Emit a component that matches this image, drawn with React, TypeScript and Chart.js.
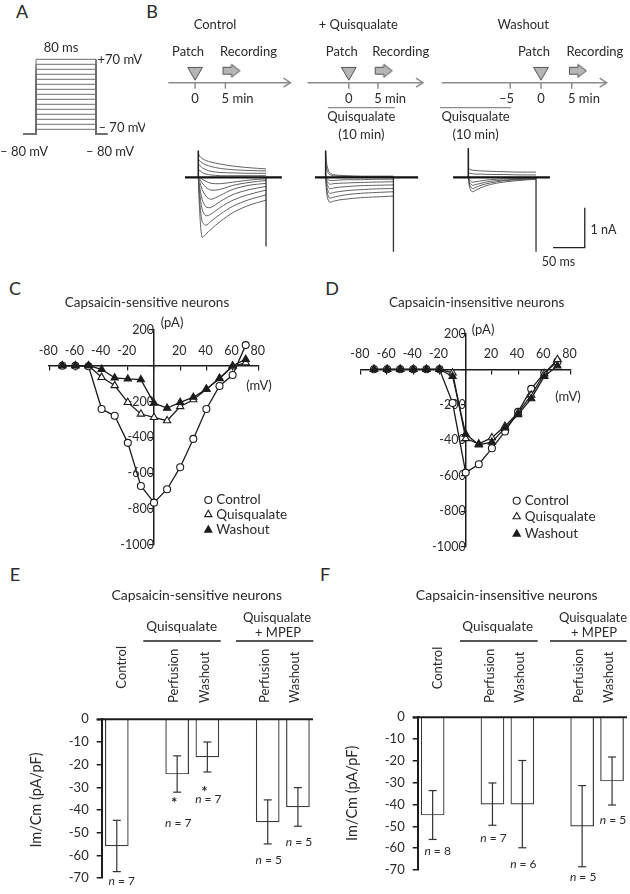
import React, { useEffect, useRef } from 'react';
import { Chart, registerables } from 'chart.js';

Chart.register(...registerables);

const FONT = 'Lato, "Noto Sans", "DejaVu Sans", sans-serif';
const INK = '#1c1c1c';
const TXT = '#2a2a2a';
const GREY = '#8c8c8c';

// ---------------- DATA ----------------
// Panel A: voltage-step protocol
const stepLevelsMv = [70, 60, 50, 40, 30, 20, 10, 0, -10, -20, -30, -40, -50, -60, -70];
const holdingMv = -80;
const stepOnMs = 0;
const stepOffMs = 80;
const holdFromMs = -17;
const holdToMs = 95;

// Panel B: timelines
const tlTitles = ['Control', '+ Quisqualate', 'Washout'];
const tlTicksMin = [[0, 5], [0, 5], [-5, 0, 5]];
const tlTickLabels = [['0', '5 min'], ['0', '5 min'], ['–5', '0', '5 min']];
const tlPatchMin = [0, 0, 0];
const tlRecordMin = [6, 6, 6];
const tlQuisFromMin: (number | null)[] = [null, -3.6, -16.4];
const tlQuisToMin: (number | null)[] = [null, 7.9, -4.9];

// Panel B: current traces (nA) sampled at these times (ms)
const traceTimesMs = [0, 2, 6, 12, 20, 35, 55, 80, 107];
const ctrlTracesNa = [
  [0.6, 0.53, 0.47, 0.42, 0.38, 0.33, 0.28, 0.24, 0.21],
  [0.45, 0.42, 0.36, 0.31, 0.27, 0.22, 0.19, 0.17, 0.16],
  [0.3, 0.3, 0.24, 0.19, 0.15, 0.12, 0.11, 0.1, 0.1],
  [0.15, 0.17, 0.12, 0.08, 0.06, 0.04, 0.04, 0.04, 0.04],
  [0, -0.8, -1.5, -1.42, -1.3, -1.1, -0.88, -0.7, -0.57],
  [0, -0.55, -1.1, -1.2, -1.1, -0.92, -0.72, -0.56, -0.44],
  [0, -0.35, -0.8, -0.96, -0.92, -0.75, -0.57, -0.43, -0.32],
  [0, -0.22, -0.55, -0.74, -0.75, -0.6, -0.43, -0.31, -0.23],
  [0, -0.1, -0.3, -0.47, -0.55, -0.45, -0.3, -0.2, -0.15],
  [0, -0.04, -0.14, -0.25, -0.32, -0.3, -0.2, -0.13, -0.08],
  [0, 0, -0.05, -0.1, -0.15, -0.16, -0.12, -0.07, -0.04],
];
const quisTracesNa = [
  [0.55, 0.3, 0.12, 0.07, 0.05, 0.04, 0.03, 0.03, 0.03],
  [0.35, 0.18, 0.07, 0.04, 0.03, 0.02, 0.02, 0.02, 0.02],
  [0, -0.45, -0.62, -0.6, -0.57, -0.54, -0.51, -0.49, -0.47],
  [0, -0.35, -0.52, -0.5, -0.47, -0.43, -0.4, -0.38, -0.36],
  [0, -0.25, -0.4, -0.38, -0.36, -0.33, -0.31, -0.29, -0.28],
  [0, -0.15, -0.28, -0.27, -0.25, -0.23, -0.21, -0.2, -0.19],
  [0, -0.08, -0.17, -0.16, -0.15, -0.14, -0.13, -0.12, -0.11],
  [0, -0.03, -0.08, -0.08, -0.07, -0.06, -0.06, -0.05, -0.05],
];
const washTracesNa = [
  [0.25, 0.2, 0.18, 0.17, 0.16, 0.15, 0.14, 0.13, 0.13],
  [0.12, 0.1, 0.09, 0.08, 0.08, 0.07, 0.07, 0.06, 0.06],
  [0, -0.25, -0.36, -0.32, -0.26, -0.18, -0.12, -0.08, -0.05],
  [0, -0.18, -0.28, -0.25, -0.2, -0.14, -0.09, -0.06, -0.04],
  [0, -0.12, -0.2, -0.18, -0.15, -0.1, -0.07, -0.05, -0.03],
  [0, -0.06, -0.12, -0.11, -0.09, -0.06, -0.04, -0.03, -0.02],
];
const capSpikeNa = [0.67, 0.67, 0.73];
const tailSpikeNa = [-1.73, -1.86, -1.86];
const baselineFromMs = [-21, -17, -24];
const baselineToMs = [132, 146, 129];
const scaleBarMs = 50;
const scaleBarNa = 1;
const scaleBarAtMs = 134;
const scaleBarAtNa = -1.76;

// Panels C & D: I-V relations
const ivVoltagesMv = [-70, -60, -50, -40, -30, -20, -10, 0, 10, 20, 30, 40, 50, 60, 70];
const ivTickLabels = [-80, -60, -40, -20, 20, 40, 60, 80];
const cControlPa = [0, 0, -3, -242, -280, -431, -672, -765, -690, -567, -409, -242, -113, -52, 115];
const cQuisPa = [0, 0, 0, -65, -111, -205, -270, -289, -307, -228, -190, -131, -70, -5, 17];
const cWashPa = [0, 0, 0, -20, -68, -74, -78, -209, -237, -205, -176, -131, -72, 0, 36];
const dControlPa = [0, 0, 0, 0, 0, 0, -190, -582, -535, -445, -350, -240, -110, -20, 43];
const dQuisPa = [0, 0, 0, 0, 0, 0, -20, -390, -420, -385, -320, -245, -145, -25, 55];
const dWashPa = [0, 0, 0, 0, 0, 0, -40, -365, -425, -410, -330, -255, -165, -40, 20];
const legendLabels = ['Control', 'Quisqualate', 'Washout'];

// Panels E & F: current density
const barCategories = ['Control', '', 'Perfusion', 'Washout', '', 'Perfusion', 'Washout'];
const eMean = [-55.8, null, -24.1, -16.6, null, -45.2, -38.6];
const eSem = [11.3, null, 8.0, 6.6, null, 9.7, 8.5];
const eN = ['7', null, '7', '7', null, '5', '5'];
const eNAt = [-71.1, null, -45.9, -35.1, null, -61.9, -54.0];
const eStarAt = [null, null, -35.4, -30.8, null, null, null];
const fMean = [-44.8, null, -39.8, -39.8, null, -49.9, -29.2];
const fSem = [11.2, null, 9.7, 20, null, 18.6, 11];
const fN = ['8', null, '7', '6', null, '5', '5'];
const fNAt = [-61.2, null, -55.6, -67.4, null, -73.4, -47.1];
const fStarAt = [null, null, null, null, null, null, null];

// ---------------- helpers ----------------
type Box = { left: number; top: number; width: number; height: number };
type Area = { left: number; top: number; right: number; bottom: number };
type T = { t: string; x: number; y: number; size?: number; align?: CanvasTextAlign; rot?: number; italic?: boolean; color?: string };

const padFor = (box: Box, a: Area) => ({
  left: a.left - box.left,
  top: a.top - box.top,
  right: box.left + box.width - a.right,
  bottom: box.top + box.height - a.bottom,
});

const baseOpts = (pad: any) => ({
  responsive: false,
  maintainAspectRatio: false,
  animation: false,
  devicePixelRatio: 1,
  events: [],
  layout: { padding: pad },
  plugins: { legend: { display: false }, tooltip: { enabled: false }, title: { display: false } },
});

function drawText(ctx: CanvasRenderingContext2D, it: T, ox: number, oy: number) {
  ctx.save();
  ctx.font = `${it.italic ? 'italic ' : ''}${it.size ?? 13}px ${FONT}`;
  ctx.fillStyle = it.color ?? TXT;
  ctx.textAlign = it.align ?? 'center';
  ctx.textBaseline = 'middle';
  ctx.translate(it.x - ox, it.y - oy);
  if (it.rot) ctx.rotate(it.rot);
  ctx.fillText(it.t, 0, 0);
  ctx.restore();
}

function textPlugin(box: Box, items: T[]) {
  return {
    id: 'pageText',
    afterDraw(chart: any) {
      for (const it of items) drawText(chart.ctx, it, box.left, box.top);
    },
  };
}

function line(ctx: CanvasRenderingContext2D, x1: number, y1: number, x2: number, y2: number) {
  ctx.beginPath();
  ctx.moveTo(x1, y1);
  ctx.lineTo(x2, y2);
  ctx.stroke();
}

function ChartCanvas({ box, build }: { box: Box; build: () => any }) {
  const ref = useRef<HTMLCanvasElement | null>(null);
  useEffect(() => {
    const chart = new Chart(ref.current as HTMLCanvasElement, build());
    return () => chart.destroy();
  }, []);
  return (
    <canvas
      ref={ref}
      width={box.width}
      height={box.height}
      style={{ position: 'absolute', left: box.left, top: box.top, width: box.width, height: box.height }}
    />
  );
}

// ---------------- Panel A ----------------
const aBox: Box = { left: 0, top: 30, width: 145, height: 140 };
const aArea: Area = { left: 23.3, right: 107.3, top: 59.3, bottom: 134.3 };
function buildA() {
  return {
    type: 'line',
    data: {
      datasets: stepLevelsMv.map((v) => ({
        data: [
          { x: holdFromMs, y: holdingMv },
          { x: stepOnMs, y: holdingMv },
          { x: stepOnMs, y: v },
          { x: stepOffMs, y: v },
          { x: stepOffMs, y: holdingMv },
          { x: holdToMs, y: holdingMv },
        ],
        borderColor: '#6e6e6e',
        borderWidth: 1,
        pointRadius: 0,
        tension: 0,
        clip: false,
      })),
    },
    options: {
      ...baseOpts(padFor(aBox, aArea)),
      scales: {
        x: { type: 'linear', display: false, min: holdFromMs, max: holdToMs },
        y: { type: 'linear', display: false, min: holdingMv, max: stepLevelsMv[0] },
      },
    },
    plugins: [
      textPlugin(aBox, [
        { t: '80 ms', x: 61, y: 47.5 },
        { t: '+70 mV', x: 97.5, y: 59.5, align: 'left' },
        { t: '– 70 mV', x: 98.5, y: 128, align: 'left' },
        { t: '– 80 mV', x: 24, y: 152 },
        { t: '– 80 mV', x: 110, y: 152 },
      ]),
    ],
  };
}

// ---------------- Panel B timelines ----------------
const tlBoxes: Box[] = [
  { left: 148, top: 15, width: 152, height: 130 },
  { left: 298, top: 15, width: 142, height: 130 },
  { left: 430, top: 15, width: 200, height: 130 },
];
const tlAxisPx = [[168.3, 293.3], [300, 423], [441.7, 606.7]];
const tlZeroPx = [195.7, 344, 541];
const tlPxPerMin = [6.2, 6.2, 6.15];
const tlTitleX = [215, 358.3, 523.3];
const TL_AXIS_Y = 82.7;

function makeArrowImage() {
  const c = document.createElement('canvas');
  c.width = 20;
  c.height = 16;
  const g = c.getContext('2d') as CanvasRenderingContext2D;
  g.beginPath();
  g.moveTo(1.5, 4.5);
  g.lineTo(10, 4.5);
  g.lineTo(10, 1.5);
  g.lineTo(18.5, 8);
  g.lineTo(10, 14.5);
  g.lineTo(10, 11.5);
  g.lineTo(1.5, 11.5);
  g.closePath();
  g.fillStyle = '#b5b5b5';
  g.fill();
  g.strokeStyle = '#555';
  g.lineWidth = 1;
  g.stroke();
  return c;
}

function splitNum(s: string) {
  const m = s.match(/^([^0-9]*)([0-9]+)(.*)$/);
  return m ? [m[1], m[2], m[3]] : ['', s, ''];
}

function buildTimeline(i: number) {
  const box = tlBoxes[i];
  const [a0, a1] = tlAxisPx[i];
  const z = tlZeroPx[i];
  const ppm = tlPxPerMin[i];
  const area: Area = { left: a0, right: a1, top: TL_AXIS_Y - 25, bottom: TL_AXIS_Y + 25 };
  const decor = {
    id: 'tlDecor',
    beforeDatasetsDraw(chart: any) {
      const ctx = chart.ctx as CanvasRenderingContext2D;
      const xs = chart.scales.x;
      const y0 = chart.scales.y.getPixelForValue(0);
      ctx.save();
      ctx.strokeStyle = GREY;
      ctx.lineWidth = 1.5;
      const L = chart.chartArea.left;
      const R = chart.chartArea.right;
      line(ctx, L, y0, R, y0);
      ctx.beginPath();
      ctx.moveTo(R - 7, y0 - 4.5);
      ctx.lineTo(R, y0);
      ctx.lineTo(R - 7, y0 + 4.5);
      ctx.stroke();
      for (const t of tlTicksMin[i]) {
        const x = xs.getPixelForValue(t);
        line(ctx, x, y0, x, y0 + 6);
      }
      const qf = tlQuisFromMin[i];
      const qt = tlQuisToMin[i];
      if (qf != null && qt != null) {
        ctx.lineWidth = 1.3;
        line(ctx, xs.getPixelForValue(qf), y0 + 25, xs.getPixelForValue(qt), y0 + 25);
      }
      ctx.restore();
    },
    afterDraw(chart: any) {
      const ctx = chart.ctx as CanvasRenderingContext2D;
      const xs = chart.scales.x;
      const y0 = chart.scales.y.getPixelForValue(0);
      const ox = box.left;
      const oy = box.top;
      drawText(ctx, { t: tlTitles[i], x: tlTitleX[i], y: 25 }, ox, oy);
      drawText(ctx, { t: 'Patch', x: xs.getPixelForValue(tlPatchMin[i]) + ox - 7, y: 51.7 }, ox, oy);
      drawText(ctx, { t: 'Recording', x: xs.getPixelForValue(tlRecordMin[i]) + ox + 17, y: 51.7 }, ox, oy);
      ctx.save();
      ctx.font = `13px ${FONT}`;
      ctx.fillStyle = TXT;
      ctx.textBaseline = 'middle';
      tlTicksMin[i].forEach((t, k) => {
        const x = xs.getPixelForValue(t);
        const [pre, num, suf] = splitNum(tlTickLabels[i][k]);
        const w = ctx.measureText(num).width;
        const y = y0 + 16.5;
        ctx.textAlign = 'center';
        ctx.fillText(num, x, y);
        if (pre) {
          ctx.textAlign = 'right';
          ctx.fillText(pre, x - w / 2, y);
        }
        if (suf) {
          ctx.textAlign = 'left';
          ctx.fillText(suf, x + w / 2, y);
        }
      });
      ctx.restore();
      const qf = tlQuisFromMin[i];
      const qt = tlQuisToMin[i];
      if (qf != null && qt != null) {
        const cx = (xs.getPixelForValue(qf) + xs.getPixelForValue(qt)) / 2 + ox;
        drawText(ctx, { t: 'Quisqualate', x: cx, y: 117.3 }, ox, oy);
        drawText(ctx, { t: '(10 min)', x: cx, y: 135 }, ox, oy);
      }
    },
  };
  return {
    type: 'scatter',
    data: {
      datasets: [
        {
          data: [{ x: tlPatchMin[i], y: 11 }],
          pointStyle: 'triangle',
          pointRotation: 180,
          pointRadius: 8.5,
          pointBackgroundColor: '#b5b5b5',
          pointBorderColor: '#555',
          pointBorderWidth: 1,
          clip: false,
        },
        {
          data: [{ x: tlRecordMin[i], y: 12 }],
          pointStyle: makeArrowImage(),
          pointRadius: 8,
          clip: false,
        },
      ],
    },
    options: {
      ...baseOpts(padFor(box, area)),
      scales: {
        x: { type: 'linear', display: false, min: (a0 - z) / ppm, max: (a1 - z) / ppm },
        y: { type: 'linear', display: false, min: -25, max: 25 },
      },
    },
    plugins: [decor],
  };
}

// ---------------- Panel B traces ----------------
const traceSets = [ctrlTracesNa, quisTracesNa, washTracesNa];
const trBoxes: Box[] = [
  { left: 180, top: 143, width: 110, height: 118 },
  { left: 307, top: 143, width: 112, height: 118 },
  { left: 450, top: 143, width: 178, height: 135 },
];
const trZeroPx = [198.3, 325.7, 468.3];
const TR_ZERO_Y = 177.3;
const TR_PX_PER_MS = 0.633;
const TR_PX_PER_NA = 40;
const trRangeMs = [[-25, 140], [-25, 140], [-25, 200]];
const trRangeNa = [[-2, 0.8], [-2, 0.8], [-2.4, 0.8]];

function buildTraces(i: number) {
  const box = trBoxes[i];
  const [m0, m1] = trRangeMs[i];
  const [n0, n1] = trRangeNa[i];
  const area: Area = {
    left: trZeroPx[i] + m0 * TR_PX_PER_MS,
    right: trZeroPx[i] + m1 * TR_PX_PER_MS,
    top: TR_ZERO_Y - n1 * TR_PX_PER_NA,
    bottom: TR_ZERO_Y - n0 * TR_PX_PER_NA,
  };
  const stepEnd = traceTimesMs[traceTimesMs.length - 1];
  const ls = (data: any[], color: string, width: number) => ({
    data,
    borderColor: color,
    borderWidth: width,
    pointRadius: 0,
    tension: 0,
    clip: false,
  });
  const datasets: any[] = [
    ls([{ x: baselineFromMs[i], y: 0 }, { x: baselineToMs[i], y: 0 }], '#111', 2.2),
    ls([{ x: 0, y: 0 }, { x: 0, y: capSpikeNa[i] }], '#222', 1.6),
    ls([{ x: stepEnd, y: 0 }, { x: stepEnd, y: tailSpikeNa[i] }], '#333', 1.3),
  ];
  traceSets[i].forEach((tr) => {
    datasets.push({
      ...ls(traceTimesMs.map((t, k) => ({ x: t, y: tr[k] })), '#505050', 0.9),
      tension: 0.3,
    });
  });
  const plugins: any[] = [];
  if (i === 2) {
    datasets.push(
      ls(
        [
          { x: scaleBarAtMs, y: scaleBarAtNa },
          { x: scaleBarAtMs + scaleBarMs, y: scaleBarAtNa },
          { x: scaleBarAtMs + scaleBarMs, y: scaleBarAtNa + scaleBarNa },
        ],
        '#222',
        1.3
      )
    );
    plugins.push(
      textPlugin(box, [
        { t: '1 nA', x: 603.5, y: 229.5, size: 12.5 },
        { t: '50 ms', x: 558.5, y: 262, size: 12.5 },
      ])
    );
  }
  return {
    type: 'line',
    data: { datasets },
    options: {
      ...baseOpts(padFor(box, area)),
      scales: {
        x: { type: 'linear', display: false, min: m0, max: m1 },
        y: { type: 'linear', display: false, min: n0, max: n1 },
      },
    },
    plugins,
  };
}

// ---------------- Panels C & D ----------------
function drawMarker(ctx: CanvasRenderingContext2D, kind: number, x: number, y: number) {
  ctx.save();
  ctx.strokeStyle = INK;
  ctx.lineWidth = 1.1;
  ctx.beginPath();
  if (kind === 0) {
    ctx.arc(x, y, 3.5, 0, Math.PI * 2);
  } else {
    const r = 4.2;
    ctx.moveTo(x, y - r);
    ctx.lineTo(x + 0.866 * r, y + r / 2);
    ctx.lineTo(x - 0.866 * r, y + r / 2);
    ctx.closePath();
  }
  ctx.fillStyle = kind === 2 ? INK : '#fff';
  ctx.fill();
  ctx.stroke();
  ctx.restore();
}

function buildIV(
  box: Box,
  area: Area,
  ctrl: number[],
  quis: number[],
  wash: number[],
  texts: T[],
  tickLabelY: number,
  legendX: number,
  legendYs: number[]
) {
  const mk = (label: string, vals: number[], style: string, fill: string) => ({
    label,
    data: ivVoltagesMv.map((v, k) => ({ x: v, y: vals[k] })),
    borderColor: INK,
    borderWidth: 1.3,
    pointStyle: style,
    pointRadius: style === 'circle' ? 3.5 : 4.2,
    pointBackgroundColor: fill,
    pointBorderColor: INK,
    pointBorderWidth: 1.1,
    tension: 0,
    clip: false,
  });
  const decor = {
    id: 'ivDecor',
    afterDraw(chart: any) {
      const ctx = chart.ctx as CanvasRenderingContext2D;
      const xs = chart.scales.x;
      for (const v of ivTickLabels) {
        drawText(ctx, { t: String(v), x: xs.getPixelForValue(v) + box.left - 1, y: tickLabelY, size: 12.5 }, box.left, box.top);
      }
      legendLabels.forEach((lab, k) => {
        drawMarker(ctx, k, legendX - box.left, legendYs[k] - box.top);
        drawText(ctx, { t: lab, x: legendX + 8, y: legendYs[k], align: 'left', size: 13.5 }, box.left, box.top);
      });
    },
  };
  const axisGrid = { drawOnChartArea: false, drawTicks: true, tickLength: 4, color: INK, lineWidth: 1.2 };
  const axisBorder = { display: true, color: INK, width: 1.5 };
  return {
    type: 'line',
    data: {
      datasets: [
        mk('Washout', wash, 'triangle', INK),
        mk('Quisqualate', quis, 'triangle', '#fff'),
        mk('Control', ctrl, 'circle', '#fff'),
      ],
    },
    options: {
      ...baseOpts(padFor(box, area)),
      scales: {
        x: {
          type: 'linear',
          min: -80,
          max: 80,
          position: { y: 0 },
          ticks: { stepSize: 20, display: false },
          grid: axisGrid,
          border: axisBorder,
        },
        y: {
          type: 'linear',
          min: -1000,
          max: 200,
          position: { x: 0 },
          ticks: {
            stepSize: 200,
            padding: 13,
            color: TXT,
            font: { family: FONT, size: 12.5 },
            callback: (v: any) => (v === 0 ? '' : String(v)),
          },
          grid: axisGrid,
          border: axisBorder,
        },
      },
    },
    plugins: [decor, textPlugin(box, texts)],
  };
}

const cBox: Box = { left: 0, top: 280, width: 315, height: 290 };
const cArea: Area = { left: 49.2, right: 258.8, top: 329.9, bottom: 544.7 };
const dBox: Box = { left: 315, top: 280, width: 315, height: 290 };
const dArea: Area = { left: 360.9, right: 570.5, top: 333.8, bottom: 546.8 };

const buildC = () =>
  buildIV(
    cBox,
    cArea,
    cControlPa,
    cQuisPa,
    cWashPa,
    [
      { t: 'Capsaicin-sensitive neurons', x: 147, y: 303, size: 13.5 },
      { t: '(pA)', x: 172, y: 323, size: 13 },
      { t: '(mV)', x: 259, y: 386, size: 13 },
    ],
    351,
    208.3,
    [500, 514.5, 530]
  );
const buildD = () =>
  buildIV(
    dBox,
    dArea,
    dControlPa,
    dQuisPa,
    dWashPa,
    [
      { t: 'Capsaicin-insensitive neurons', x: 476.7, y: 302.7, size: 13.5 },
      { t: '(pA)', x: 483, y: 330, size: 13 },
      { t: '(mV)', x: 568, y: 396.7, size: 13 },
    ],
    354,
    516.7,
    [500.7, 516.7, 534]
  );

// ---------------- Panels E & F ----------------
function buildBars(
  box: Box,
  area: Area,
  mean: (number | null)[],
  sem: (number | null)[],
  nText: (string | null)[],
  nAt: (number | null)[],
  starAt: (number | null)[],
  texts: T[],
  lines: number[][],
  controlTop: number,
  othersBottom: number
) {
  const decor = {
    id: 'barDecor',
    afterDatasetsDraw(chart: any) {
      const ctx = chart.ctx as CanvasRenderingContext2D;
      const xs = chart.scales.x;
      const ys = chart.scales.y;
      const y0 = ys.getPixelForValue(0);
      ctx.save();
      ctx.strokeStyle = INK;
      ctx.lineWidth = 2;
      line(ctx, chart.chartArea.left - 5, y0, chart.chartArea.right, y0);
      ctx.lineWidth = 1.2;
      ctx.strokeStyle = '#333';
      mean.forEach((m, k) => {
        if (m == null) return;
        const s = sem[k] as number;
        const x = xs.getPixelForValue(k);
        const yt = ys.getPixelForValue(m + s);
        const yb = ys.getPixelForValue(m - s);
        line(ctx, x, yt, x, yb);
        line(ctx, x - 4, yt, x + 4, yt);
        line(ctx, x - 4, yb, x + 4, yb);
      });
      ctx.restore();
      // group lines
      ctx.save();
      ctx.strokeStyle = INK;
      ctx.lineWidth = 1.5;
      for (const [x1, x2, y] of lines) line(ctx, x1 - box.left, y - box.top, x2 - box.left, y - box.top);
      ctx.restore();
      // category labels (rotated)
      barCategories.forEach((lab, k) => {
        if (!lab) return;
        const x = xs.getPixelForValue(k) + box.left + (k === 0 ? 5 : -3);
        if (k === 0) {
          drawText(ctx, { t: lab, x, y: controlTop, rot: -Math.PI / 2, align: 'right', size: 13 }, box.left, box.top);
        } else {
          drawText(ctx, { t: lab, x, y: othersBottom, rot: -Math.PI / 2, align: 'left', size: 13 }, box.left, box.top);
        }
      });
      // n labels and stars
      ctx.save();
      ctx.fillStyle = TXT;
      ctx.textBaseline = 'middle';
      nText.forEach((n, k) => {
        const at = nAt[k];
        if (n == null || at == null) return;
        const cx = xs.getPixelForValue(k) + (k === 0 ? 5 : 1);
        const y = ys.getPixelForValue(at);
        ctx.font = `italic 12px ${FONT}`;
        const w1 = ctx.measureText('n').width;
        ctx.font = `12px ${FONT}`;
        const rest = ' = ' + n;
        const w2 = ctx.measureText(rest).width;
        const x0 = cx - (w1 + w2) / 2;
        ctx.textAlign = 'left';
        ctx.font = `italic 12px ${FONT}`;
        ctx.fillText('n', x0, y);
        ctx.font = `12px ${FONT}`;
        ctx.fillText(rest, x0 + w1, y);
      });
      starAt.forEach((s, k) => {
        if (s == null) return;
        ctx.font = `bold 15px ${FONT}`;
        ctx.textAlign = 'center';
        ctx.fillText('*', xs.getPixelForValue(k) - 3, ys.getPixelForValue(s) + 3);
      });
      ctx.restore();
    },
  };
  const pad = padFor(box, area);
  return {
    type: 'bar',
    data: {
      labels: barCategories,
      datasets: [
        {
          data: mean,
          backgroundColor: '#ffffff',
          borderColor: '#3a3a3a',
          borderWidth: 1.2,
          borderSkipped: 'start',
          barThickness: 23,
        },
      ],
    },
    options: {
      ...baseOpts({ ...pad, left: 0 }),
      scales: {
        x: { type: 'category', display: false, offset: true },
        y: {
          type: 'linear',
          min: -70,
          max: 0,
          position: 'left',
          afterFit: (s: any) => {
            s.width = area.left - box.left;
          },
          ticks: {
            stepSize: 10,
            padding: 8,
            color: TXT,
            font: { family: FONT, size: 13 },
            callback: (v: any) => String(v),
          },
          grid: { drawOnChartArea: false, drawTicks: true, tickLength: 5, color: INK, lineWidth: 1.5 },
          border: { display: true, color: INK, width: 2 },
        },
      },
    },
    plugins: [decor, textPlugin(box, texts)],
  };
}

const eBox: Box = { left: 0, top: 580, width: 315, height: 314 };
const eArea: Area = { left: 101.7, right: 313, top: 719.3, bottom: 884 };
const fBox: Box = { left: 315, top: 580, width: 315, height: 314 };
const fArea: Area = { left: 417.7, right: 627, top: 717.3, bottom: 870 };

const buildE = () =>
  buildBars(
    eBox,
    eArea,
    eMean,
    eSem,
    eN,
    eNAt,
    eStarAt,
    [
      { t: 'Capsaicin-sensitive neurons', x: 196.7, y: 595, size: 14 },
      { t: 'Quisqualate', x: 181.7, y: 626.7, size: 13.5 },
      { t: 'Quisqualate', x: 277, y: 618.3, size: 13 },
      { t: '+ MPEP', x: 278, y: 633.3, size: 13 },
      { t: 'Im/Cm (pA/pF)', x: 36, y: 800, size: 14.5, rot: -Math.PI / 2 },
    ],
    [
      [143.3, 220.7, 641],
      [236, 313.3, 641],
    ],
    646,
    703
  );
const buildF = () =>
  buildBars(
    fBox,
    fArea,
    fMean,
    fSem,
    fN,
    fNAt,
    fStarAt,
    [
      { t: 'Capsaicin-insensitive neurons', x: 506.7, y: 595, size: 14 },
      { t: 'Quisqualate', x: 497.7, y: 626.7, size: 13.5 },
      { t: 'Quisqualate', x: 593, y: 618.3, size: 13 },
      { t: '+ MPEP', x: 594, y: 633.3, size: 13 },
      { t: 'Im/Cm (pA/pF)', x: 352.3, y: 793.3, size: 14.5, rot: -Math.PI / 2 },
    ],
    [
      [460, 537.7, 641],
      [550, 626.7, 641],
    ],
    646.7,
    703
  );

const panelLetters = [
  { t: 'A', x: 22, y: 11 },
  { t: 'B', x: 152, y: 11 },
  { t: 'C', x: 15, y: 288 },
  { t: 'D', x: 332, y: 288 },
  { t: 'E', x: 15, y: 574 },
  { t: 'F', x: 325, y: 574 },
];

export default function App() {
  return (
    <div style={{ position: 'absolute', left: 0, top: 0, width: 630, height: 894, background: '#fff', overflow: 'hidden' }}>
      {panelLetters.map((p) => (
        <div
          key={p.t}
          style={{
            position: 'absolute',
            left: p.x,
            top: p.y,
            transform: 'translate(-50%, -50%)',
            font: `18px ${FONT}`,
            color: TXT,
            lineHeight: '18px',
          }}
        >
          {p.t}
        </div>
      ))}
      <ChartCanvas box={aBox} build={buildA} />
      {[0, 1, 2].map((i) => (
        <ChartCanvas key={'tl' + i} box={tlBoxes[i]} build={() => buildTimeline(i)} />
      ))}
      {[0, 1, 2].map((i) => (
        <ChartCanvas key={'tr' + i} box={trBoxes[i]} build={() => buildTraces(i)} />
      ))}
      <ChartCanvas box={cBox} build={buildC} />
      <ChartCanvas box={dBox} build={buildD} />
      <ChartCanvas box={eBox} build={buildE} />
      <ChartCanvas box={fBox} build={buildF} />
    </div>
  );
}
